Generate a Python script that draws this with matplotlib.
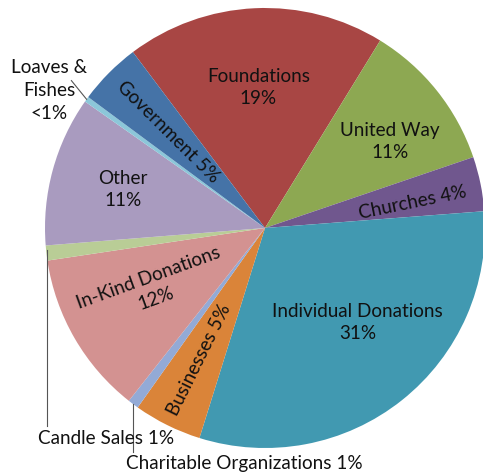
import numpy as np
import matplotlib.pyplot as plt

plt.rcParams['font.family'] = ['Lato', 'DejaVu Sans']

# Funding sources, clockwise from the top
sources = ["Foundations", "United Way", "Churches", "Individual Donations",
           "Businesses", "Charitable Organizations", "In-Kind Donations",
           "Candle Sales", "Other", "Loaves & Fishes", "Government"]
shares = [19, 11, 4, 31, 5, 0.8, 12, 1.1, 11, 0.4, 4.6]
pct_labels = ["19%", "11%", "4%", "31%", "5%", "1%", "12%", "1%", "11%", "<1%", "5%"]
colors = ["#A84644", "#8DA852", "#70578E", "#4199B1", "#DA8439", "#93AAD6",
          "#D39291", "#B9CD96", "#A99BBF", "#8CC7D9", "#4573A7"]

start = 126.9
fs = 13.6

fig = plt.figure(figsize=(4.83, 4.73), dpi=100)
ax = fig.add_axes([45 / 483, 25 / 473, 440 / 483, 440 / 473])
wedges, _ = ax.pie(shares, colors=colors, startangle=start, counterclock=False,
                   radius=1, wedgeprops=dict(linewidth=0))
ax.set_xlim(-1, 1)
ax.set_ylim(-1, 1)
ax.set_aspect("equal")
ax.axis("off")

# midpoint angle of each wedge
mids = [(w.theta1 + w.theta2) / 2 for w in wedges]

def inside(i, text, r, rot=0, dang=0):
    a = np.deg2rad(mids[i] + dang)
    ax.text(r * np.cos(a), r * np.sin(a), text, ha="center", va="center",
            rotation=rot, rotation_mode="anchor", fontsize=fs, color="#111111",
            linespacing=1.35)

inside(0, "Foundations\n19%", 0.64)
inside(1, "United Way\n11%", 0.69, dang=-4)
inside(2, "Churches 4%", 0.68, rot=mids[2], dang=-2)
inside(3, "Individual Donations\n31%", 0.60, dang=6)
inside(4, "Businesses 5%", 0.67, rot=mids[4] + 180)
inside(6, "In-Kind Donations\n12%", 0.58, rot=20, dang=-2)
inside(8, "Other\n11%", 0.67)
inside(10, "Government 5%", 0.62, rot=mids[10] - 180)

# outside labels with leader lines
def edge(i, r=1.0):
    a = np.deg2rad(mids[i])
    return r * np.cos(a), r * np.sin(a)

x0, y0 = edge(9)
ax.plot([x0, -0.88], [y0, 0.67], color="#555555", lw=0.8, clip_on=False)
ax.text(-0.98, 0.625, "Loaves &\nFishes\n<1%", ha="center", va="center",
        fontsize=fs, color="#111111", linespacing=1.45, clip_on=False)

ax.plot([-0.993, -0.993], [-0.10, -0.90], color="#555555", lw=0.8, clip_on=False)
ax.text(-1.03, -0.955, "Candle Sales 1%", ha="left", va="center",
        fontsize=fs, color="#111111", clip_on=False)

ax.plot([-0.60, -0.60], [-0.80, -1.02], color="#555555", lw=0.8, clip_on=False)
ax.text(-0.63, -1.07, "Charitable Organizations 1%", ha="left", va="center",
        fontsize=fs, color="#111111", clip_on=False)

plt.savefig("out.png", dpi=100)
